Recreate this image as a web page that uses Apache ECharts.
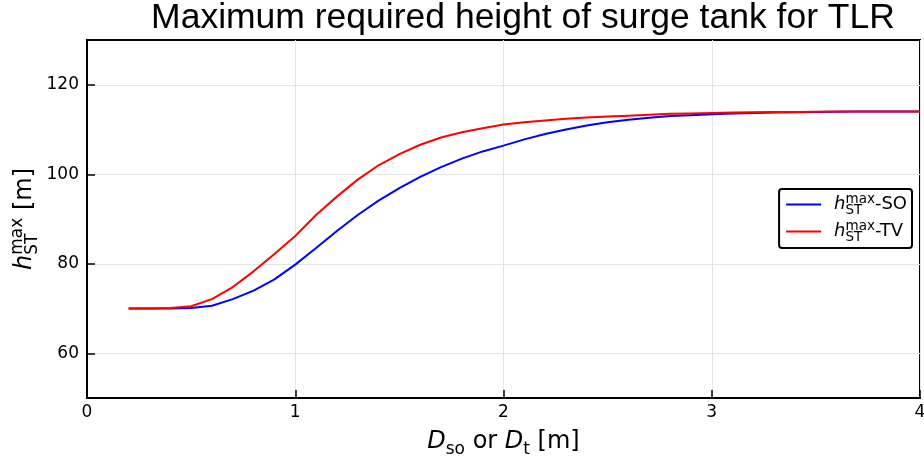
<!DOCTYPE html>
<html>
<head>
<meta charset="utf-8">
<script src="https://cdn.jsdelivr.net/npm/echarts@6/dist/echarts.min.js"></script>
<style>
html,body{margin:0;padding:0;background:#fff;}
#chart{width:924px;height:460px;}
</style>
</head>
<body>
<div id="chart"></div>
<script>
// Diameter D_so or D_t [m]
const diameters = [0.2,0.3,0.4,0.5,0.6,0.7,0.8,0.9,1.0,1.1,1.2,1.3,1.4,1.5,1.6,1.7,1.8,1.9,2.0,2.1,2.2,2.3,2.4,2.5,2.6,2.7,2.8,2.9,3.0,3.1,3.2,3.3,3.4,3.5,3.6,3.7,3.8,3.9,4.0];
// h_ST^max for surge orifice (SO)
const hSO = [70.0,70.0,70.0,70.1,70.6,72.1,74.0,76.5,79.8,83.5,87.3,90.9,94.1,96.9,99.4,101.6,103.5,105.1,106.4,107.8,109.0,110.0,110.9,111.6,112.2,112.6,113.0,113.2,113.4,113.6,113.7,113.8,113.85,113.9,113.95,114.0,114.0,114.0,114.0];
// h_ST^max for throttle valve (TV)
const hTV = [70.0,70.0,70.1,70.5,72.1,74.8,78.3,82.2,86.2,90.9,95.0,98.8,102.0,104.5,106.6,108.2,109.4,110.3,111.1,111.6,112.0,112.4,112.7,112.9,113.1,113.3,113.5,113.6,113.7,113.8,113.85,113.9,113.9,113.95,114.0,114.0,114.0,114.0,114.0];
const xTicks = [0,1,2,3,4];
const yTicks = [60,80,100,120];

const seriesColors = ['#0000ff','#ff0000'];

const chart = echarts.init(document.getElementById('chart'));
const pair = (xs, ys) => xs.map((x, i) => [x, ys[i]]);

const legendRich = {
  h: {fontFamily:'DejaVu Sans', fontStyle:'italic', fontSize:18, color:'#000', align:'left', lineHeight:25, verticalAlign:'middle'},
  st: {fontFamily:'DejaVu Sans', fontSize:13.5, color:'#000', width:0, align:'left', verticalAlign:'bottom', lineHeight:25},
  mx: {fontFamily:'DejaVu Sans', fontSize:13.5, color:'#000', align:'left', verticalAlign:'top', lineHeight:25},
  t: {fontFamily:'DejaVu Sans', fontSize:18, color:'#000', align:'left', lineHeight:25, verticalAlign:'middle'}
};

const option = {
  animation: false,
  backgroundColor: '#fff',
  title: {
    text: 'Maximum required height of surge tank for TLR',
    left: 523, top: 0, textAlign: 'center', padding: 0,
    textStyle: {fontFamily: 'Liberation Sans', fontWeight: 'normal', fontSize: 35.5, color: '#000'}
  },
  grid: {
    left: 87, right: 4, top: 40, bottom: 62,
    containLabel: false, outerBoundsMode: 'none',
    show: true, borderColor: '#000', borderWidth: 2, backgroundColor: 'transparent'
  },
  legend: {
    data: ['SO','TV'],
    orient: 'vertical',
    right: 12, top: 189,
    padding: [3, 5, 4, 7],
    itemGap: 2,
    itemWidth: 35, itemHeight: 2,
    icon: 'rect',
    borderColor: '#000', borderWidth: 2, borderRadius: 3,
    backgroundColor: '#fff',
    formatter: name => '{h|h}{st|ST}{mx|max}{t|-' + name + '}',
    textStyle: {rich: legendRich, padding:[0,0,0,8]}
  },
  xAxis: {
    type: 'value', min: 0, max: 4, interval: 1,
    name: '{d|D}{s|so}{t| or }{d|D}{s|t}{t| [m]}',
    nameLocation: 'middle', nameGap: 28,
    nameTextStyle: {
      rich: {
        d: {fontFamily:'DejaVu Sans', fontStyle:'italic', fontSize:24, color:'#000', verticalAlign:'middle', lineHeight:32},
        s: {fontFamily:'DejaVu Sans', fontSize:17, color:'#000', verticalAlign:'bottom', lineHeight:32},
        t: {fontFamily:'DejaVu Sans', fontSize:24, color:'#000', verticalAlign:'middle', lineHeight:32}
      }
    },
    axisLine: {show: true, lineStyle: {color: '#000', width: 2}},
    axisTick: {show: true, inside: true, length: 8, lineStyle: {color: '#000', width: 1.5}},
    axisLabel: {fontFamily: 'DejaVu Sans', fontSize: 17, color: '#000', margin: 6,
      formatter: v => xTicks.includes(v) ? String(v) : ''},
    splitLine: {show: true, lineStyle: {color: '#e5e5e5', width: 1}}
  },
  yAxis: {
    type: 'value', min: 50, max: 130,
    name: '{h|h}{st|ST}{mx|max}{t| [m]}',
    nameLocation: 'middle', nameGap: 46, nameRotate: 90, nameMoveOverlap: false,
    nameTextStyle: {
      rich: {
        h: {fontFamily:'DejaVu Sans', fontStyle:'italic', fontSize:24, color:'#000', align:'left', verticalAlign:'middle', lineHeight:32},
        st: {fontFamily:'DejaVu Sans', fontSize:17, color:'#000', width:0, align:'left', verticalAlign:'bottom', lineHeight:32},
        mx: {fontFamily:'DejaVu Sans', fontSize:17, color:'#000', align:'left', verticalAlign:'top', lineHeight:32},
        t: {fontFamily:'DejaVu Sans', fontSize:24, color:'#000', align:'left', verticalAlign:'middle', lineHeight:32}
      }
    },
    axisLine: {show: true, lineStyle: {color: '#000', width: 2}},
    axisTick: {show: true, inside: true, length: 8, lineStyle: {color: '#000', width: 1.5}, customValues: yTicks},
    axisLabel: {fontFamily: 'DejaVu Sans', fontSize: 17, color: '#000', margin: 8, customValues: yTicks},
    splitLine: {show: true, lineStyle: {color: '#e5e5e5', width: 1}}
  },
  series: [
    {name: 'SO', type: 'line', data: pair(diameters, hSO), showSymbol: false, symbol: 'none',
      lineStyle: {color: seriesColors[0], width: 2}, itemStyle: {color: seriesColors[0]}, z: 3},
    {name: 'TV', type: 'line', data: pair(diameters, hTV), showSymbol: false, symbol: 'none',
      lineStyle: {color: seriesColors[1], width: 2}, itemStyle: {color: seriesColors[1]}, z: 4}
  ]
};
chart.setOption(option);
</script>
</body>
</html>
